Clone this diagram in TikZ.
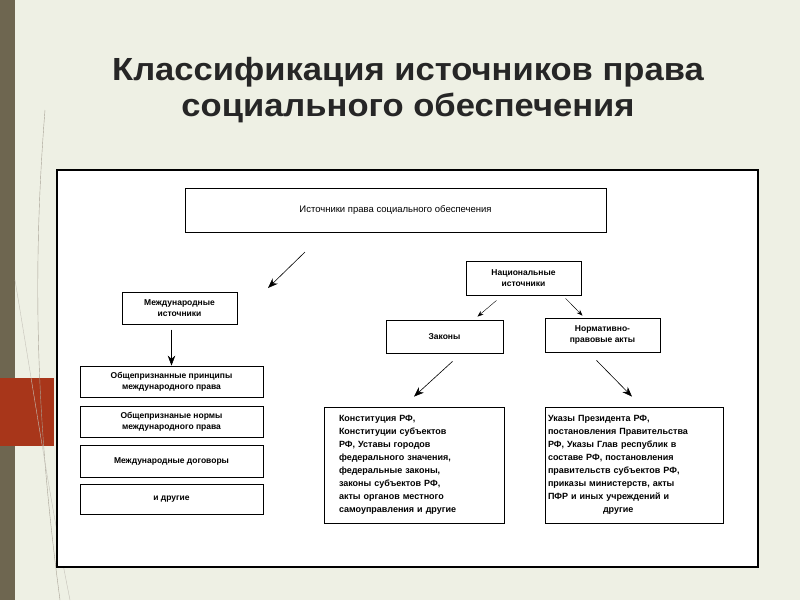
\documentclass[tikz,border=0pt]{standalone}
\usepackage{fontspec}
\setmainfont{Liberation Sans}
\usetikzlibrary{positioning, arrows.meta, calc}

\definecolor{slidebg}{HTML}{EEF0E4}
\definecolor{stripe}{HTML}{6E6650}
\definecolor{accent}{HTML}{A8361A}

\tikzset{
  srcbox/.style={draw, thick, fill=white, align=center, font=\fontsize{8.5}{11}\selectfont\bfseries, inner sep=2pt},
  longbox/.style={srcbox, align=left, font=\fontsize{9}{13}\selectfont\bfseries},
  link/.style={-{Stealth[length=6pt]}, thin},
  biglink/.style={-{Stealth[length=10pt]}, semithick}
}

\begin{document}
\begin{tikzpicture}[x=1pt, y=-1pt]
  \useasboundingbox (0,0) rectangle (800,600);
  % slide background
  \fill[slidebg] (0,0) rectangle (800,600);
  \fill[stripe] (0,0) rectangle (15,600);
  \fill[accent] (0,378) rectangle (54,446);
  \draw[stripe!60, thin] (45,110) .. controls (30,300) and (40,450) .. (60,600);
  \draw[stripe!40, thin] (15,280) .. controls (35,400) and (50,500) .. (70,600);
  % title
  \node[font=\fontsize{32}{36}\selectfont\bfseries, align=center, text=black!85, xscale=1.08] (title) at (408,90)
    {Классификация источников права\\социального обеспечения};
  % frame
  \draw[line width=1.5pt, fill=white] (57,170) rectangle (758,567);

  \node[srcbox, minimum width=421pt, minimum height=44pt, font=\fontsize{9.5}{11}\selectfont] (root) at (395.5,210) {Источники права социального обеспечения};
  \node[srcbox, minimum width=115pt, minimum height=34pt] (nat) at (523.5,278) {Национальные\\источники};
  \node[srcbox, minimum width=115pt, minimum height=32pt] (intl) at (179.5,308) {Международные\\источники};
  \node[srcbox, minimum width=117pt, minimum height=33pt] (laws) at (444.5,336.5) {Законы};
  \node[srcbox, minimum width=115pt, minimum height=34pt] (acts) at (602.5,335) {Нормативно-\\правовые акты};

  \node[srcbox, minimum width=183pt, minimum height=31pt] (prin) at (171.5,381.5) {Общепризнанные принципы\\международного права};
  \node[srcbox, minimum width=183pt, minimum height=31pt] (norm) at (171.5,421.5) {Общепризнаные нормы\\международного права};
  \node[srcbox, minimum width=183pt, minimum height=32pt] (treat) at (171.5,461) {Международные договоры};
  \node[srcbox, minimum width=183pt, minimum height=30pt] (other) at (171.5,499) {и другие};

  \node[longbox, minimum width=180pt, minimum height=116pt, text width=150pt] (const) at (414,465)
    {Конституция РФ,\\Конституции субъектов\\РФ, Уставы городов\\федерального значения,\\федеральные законы,\\законы субъектов РФ,\\акты органов местного\\самоуправления и другие};
  \node[longbox, minimum width=178pt, minimum height=116pt, text width=172pt] (decr) at (634,465)
    {Указы Президента РФ,\\постановления Правительства\\РФ, Указы Глав республик в\\составе РФ, постановления\\правительств субъектов РФ,\\приказы министерств, акты\\ПФР и иных учреждений и\\\hspace*{55pt}другие};

  % arrows
  \coordinate (a1) at (305,252);
  \coordinate (a2) at (268,288);
  \draw[biglink] (a1) -- (a2);
  \draw[biglink] ($(prin.north)+(0,-36)$) coordinate (i1) -- (prin.north);
  \coordinate (n1) at ($(nat.south)+(-27,5)$);
  \coordinate (n2) at ($(laws.north)+(33,-3)$);
  \draw[link] (n1) -- (n2);
  \coordinate (n3) at ($(nat.south)+(42,3)$);
  \draw[link] (n3) -- ($(acts.north)+(-20,-2)$) coordinate (r0);
  \draw[biglink] ($(laws.south)+(8,8)$) coordinate (l1) -- ($(const.north)+(0,-10)$) coordinate (l2);
  \draw[biglink] ($(acts.south)+(-6,8)$) coordinate (r1) -- ($(decr.north)+(-2,-10)$) coordinate (r2);
\end{tikzpicture}
\end{document}
